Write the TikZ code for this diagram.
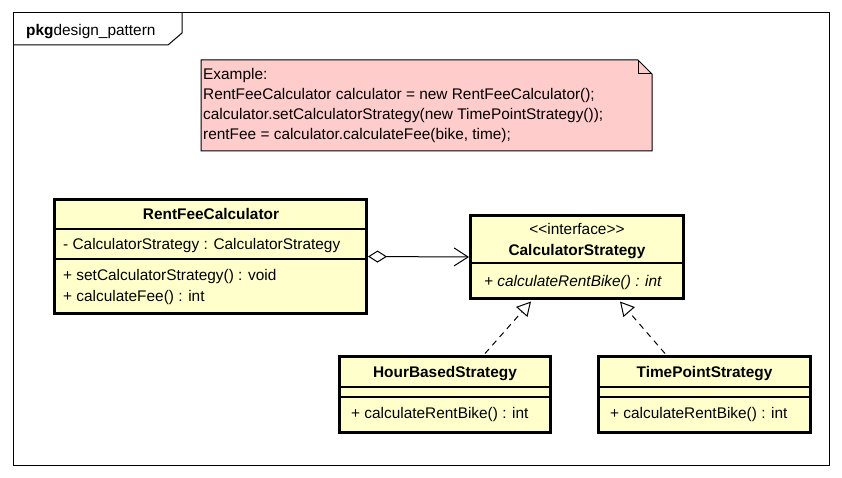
\documentclass[tikz,border=0pt]{standalone}
\usepackage{fontspec}
\setmainfont{Liberation Sans}
\usetikzlibrary{arrows.meta,calc}
\definecolor{classfill}{RGB}{255,255,204}
\definecolor{notefill}{RGB}{255,204,204}
\begin{document}
\begin{tikzpicture}[x=1pt,y=-1pt,
  txt/.style={inner sep=0pt, text height=12pt, text depth=1pt, font=\fontsize{15.4}{20}\selectfont},
  member/.style={txt, anchor=west},
  ctitle/.style={txt, font=\bfseries\fontsize{15.4}{20}\selectfont},
  classbox/.style={draw, line width=3pt, fill=classfill, rectangle, inner sep=0pt},
  divider/.style={line width=1.2pt},
  thinline/.style={line width=1pt},
  realize/.style={thinline, dash pattern=on 6pt off 5pt, -{Triangle[open,length=14pt,width=15pt]}},
  aggreg/.style={thinline, {Diamond[open,length=19pt,width=12pt]}-{Straight Barb[length=14pt,width=18pt]}}
]
\useasboundingbox[fill=white] (0,0) rectangle (842,478);

% package frame
\draw[thinline] (13,13) rectangle (829,465);
\draw[thinline] (13,45) -- (168,45) -- (182,33) -- (182,13);
\node[txt, anchor=west] (pkg) at (26,30) {\textbf{pkg}design\_pattern};

% note
\draw[thinline, fill=notefill] (201,60) -- (638,60) -- (652,74) -- (652,151) -- (201,151) -- cycle;
\draw[thinline] (638,60) -- (638,74) -- (652,74);
\node[member] (n1) at (203,74) {Example:};
\node[member] (n2) at (203,94) {RentFeeCalculator calculator = new RentFeeCalculator();};
\node[member] (n3) at (203,114) {calculator.setCalculatorStrategy(new TimePointStrategy());};
\node[member] (n4) at (203,134) {rentFee = calculator.calculateFee(bike, time);};

% RentFeeCalculator
\node[classbox, minimum width=312pt, minimum height=114pt] (rfc) at (210.5,256.5) {};
\draw[divider] (54.5,229) -- (366.5,229);
\draw[divider] (54.5,259) -- (366.5,259);
\node[ctitle] (rfct) at (211,214) {RentFeeCalculator};
\node[member] (rfca) at (63,244) {- CalculatorStrategy : CalculatorStrategy};
\node[member] (rfcm1) at (63,275) {+ setCalculatorStrategy() : void};
\node[member] (rfcm2) at (63,296) {+ calculateFee() : int};

% CalculatorStrategy
\node[classbox, minimum width=213pt, minimum height=83pt] (cs) at (577,257) {};
\draw[divider] (470.5,263) -- (683.5,263);
\node[txt] (csst) at (577,229) {\textless{}\textless{}interface\textgreater{}\textgreater{}};
\node[ctitle] (cst) at (577,250) {CalculatorStrategy};
\node[member] (csm) at (484,281) {\itshape + calculateRentBike() : int};

% HourBasedStrategy
\node[classbox, minimum width=211pt, minimum height=76pt] (hb) at (445,394.5) {};
\draw[divider] (339.5,387) -- (550.5,387);
\draw[divider] (339.5,397) -- (550.5,397);
\node[ctitle] (hbt) at (445,372) {HourBasedStrategy};
\node[member] (hbm) at (351,413) {+ calculateRentBike() : int};

% TimePointStrategy
\node[classbox, minimum width=212pt, minimum height=76pt] (tp) at (704.5,394.5) {};
\draw[divider] (598.5,387) -- (810.5,387);
\draw[divider] (598.5,397) -- (810.5,397);
\node[ctitle] (tpt) at (704.5,372) {TimePointStrategy};
\node[member] (tpm) at (610,413) {+ calculateRentBike() : int};

% connectors
\draw[aggreg] (rfc.east) -- (cs.west);
\coordinate (hbtop) at ($(hb.north)+(40,-1.5)$);
\coordinate (cstip1) at ($(cs.south)+(-46,1.5)$);
\coordinate (tptop) at ($(tp.north)+(-39.5,-1.5)$);
\coordinate (cstip2) at ($(cs.south)+(43,1.5)$);
\draw[realize] (hbtop) -- (cstip1);
\draw[realize] (tptop) -- (cstip2);
\end{tikzpicture}
\end{document}
